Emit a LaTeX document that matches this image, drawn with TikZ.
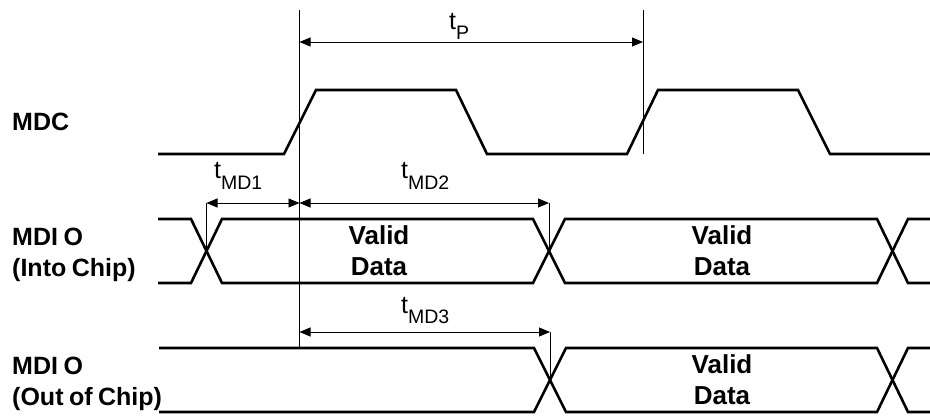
\documentclass[tikz,border=0pt]{standalone}
\usepackage{fontspec}
\setmainfont{Liberation Sans}
\usetikzlibrary{arrows.meta, calc}
\newcommand{\labelfont}{\bfseries\fontsize{25}{31}\selectfont\spaceskip=0.22em\relax}
\tikzstyle{signal}=[line width=2.6pt]
\tikzstyle{refline}=[line width=0.8pt]
\tikzstyle{dimarrow}=[{Triangle[length=11pt,width=9pt]}-{Triangle[length=11pt,width=9pt]}, line width=0.8pt]
\tikzstyle{siglabel}=[anchor=west, align=left, inner sep=0pt, font=\labelfont]
\tikzstyle{datalabel}=[align=center, inner sep=0pt, font=\bfseries\fontsize{26}{31}\selectfont]
\tikzstyle{timelabel}=[anchor=base west, inner sep=0pt, font=\fontsize{25}{25}\selectfont]
\newcommand{\tsub}[1]{t\raisebox{-10pt}{\fontsize{19.5}{19.5}\selectfont #1}}

\begin{document}
\begin{tikzpicture}[x=1pt, y=-1pt]
    \useasboundingbox (0,0) rectangle (930,417);

    % signal names
    \node[siglabel] (mdc) at (12,122) {MDC};
    \node[siglabel] (mdin) at (12,255) {MDI O\\(Into Chip)};
    \node[siglabel] (mdout) at (12,384) {MDI O\\(Out of Chip)};

    % clock
    \draw[signal] (158,154) -- (284,154) -- (316,90) -- (456,90) -- (487,154)
        -- (627,154) -- (658,90) -- (798,90) -- (830,154) -- (930,154);

    % data into chip
    \draw[signal] (158,219) -- (191,219) -- (222,283) -- (533,283) -- (565,219)
        -- (877,219) -- (908,283) -- (930,283);
    \draw[signal] (158,283) -- (191,283) -- (222,219) -- (533,219) -- (565,283)
        -- (877,283) -- (908,219) -- (930,219);
    \node[datalabel] (din1) at (379,251) {Valid\\Data};
    \node[datalabel] (din2) at (722,251) {Valid\\Data};

    % data out of chip
    \draw[signal] (159,348) -- (534,348) -- (566,412) -- (877,412) -- (908,348) -- (930,348);
    \draw[signal] (159,412) -- (534,412) -- (566,348) -- (877,348) -- (908,412) -- (930,412);
    \node[datalabel] (dout) at (722,380) {Valid\\Data};

    % reference lines
    \coordinate (edgeA) at (299.5,10);
    \coordinate (edgeAbot) at (299.5,348);
    \coordinate (edgeB) at (643,10);
    \coordinate (edgeBbot) at (643,154);
    \coordinate (xin1) at (206.5,251);
    \coordinate (xin2) at (549,251);
    \coordinate (xout) at (550,380);
    \coordinate (tick1) at (206.5,203);
    \coordinate (tick2) at (549,203);
    \coordinate (tick3) at (550,332);
    \draw[refline] (edgeA) -- (edgeAbot);
    \draw[refline] (edgeB) -- (edgeBbot);
    \draw[refline] (tick1) -- (xin1);
    \draw[refline] (tick2) -- (xin2);
    \draw[refline] (tick3) -- (xout);

    % timing arrows
    \draw[dimarrow] (edgeA |- 0,42) -- (edgeB |- 0,42);
    \draw[dimarrow] (tick1) -- (edgeA |- tick1);
    \draw[dimarrow] (edgeA |- tick2) -- (tick2);
    \draw[dimarrow] (edgeA |- tick3) -- (tick3);

    \node[timelabel] (tp) at (449,30) {\tsub{P}};
    \node[timelabel] (tmd1) at (214,179) {\tsub{MD1}};
    \node[timelabel] (tmd2) at (401,179) {\tsub{MD2}};
    \node[timelabel] (tmd3) at (401,313) {\tsub{MD3}};
\end{tikzpicture}
\end{document}
